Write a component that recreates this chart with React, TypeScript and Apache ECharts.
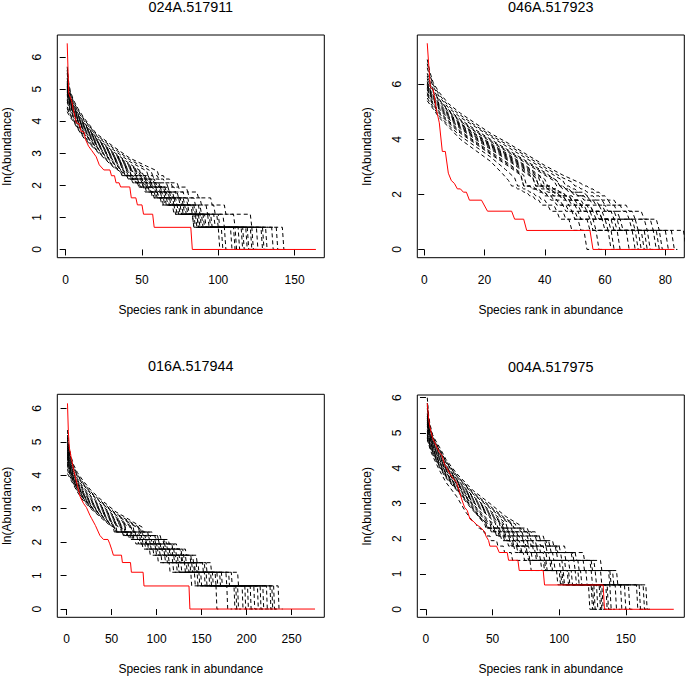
import React, { useEffect, useRef } from "react";
import * as echarts from "echarts";

const FONT = '"Liberation Sans", Arial, Helvetica, sans-serif';

// ln(abundance) levels of the tail (ln10 ... ln2, 0)
const LEVELS = [2.303, 2.197, 2.079, 1.946, 1.792, 1.609, 1.386, 1.099, 0.693, 0];

const titles = ["024A.517911", "046A.517923", "016A.517944", "004A.517975"];
const xName = "Species rank in abundance";
const yName = "ln(Abundance)";

// ---------- Panel 1 ----------
const p1XTicks = [0, 50, 100, 150];
const p1YTicks = [0, 1, 2, 3, 4, 5, 6];
const p1Observed = [
  [1, 6.43], [2, 4.87], [4, 4.62], [5, 4.36], [7, 3.95], [9, 3.91], [10, 3.69], [12, 3.66],
  [13, 3.43], [15, 3.22], [17, 3.09], [20, 2.89], [22, 2.64], [25, 2.48], [29, 2.48], [30, 2.3],
  [32, 2.3], [33, 2.08], [35, 2.08], [36, 1.95], [42, 1.95], [43, 1.61], [46, 1.61], [47, 1.39],
  [50, 1.39], [51, 1.1], [57, 1.1], [58, 0.69], [82, 0.69], [83, 0], [164, 0],
];
const p1SimHeads = [
  [[1, 5.7], [2, 5.2], [3, 4.95], [5, 4.67], [8, 4.4], [12, 4.1], [20, 3.62], [31, 3.22], [42, 2.85], [53, 2.6], [60, 2.45]],
  [[1, 5.5], [2, 5.05], [3, 4.85], [5, 4.58], [8, 4.3], [12, 4.02], [20, 3.55], [31, 3.12], [42, 2.74], [53, 2.45]],
  [[1, 5.35], [2, 4.95], [3, 4.78], [5, 4.52], [8, 4.24], [12, 3.96], [20, 3.5], [31, 3.06], [42, 2.67], [50, 2.42]],
  [[1, 5.2], [2, 4.88], [3, 4.7], [5, 4.46], [8, 4.18], [12, 3.9], [20, 3.45], [31, 3.0], [42, 2.6], [48, 2.42]],
  [[1, 5.1], [2, 4.8], [3, 4.65], [5, 4.4], [8, 4.12], [12, 3.85], [20, 3.4], [31, 2.95], [42, 2.54], [46, 2.42]],
  [[1, 5.0], [2, 4.75], [3, 4.6], [5, 4.35], [8, 4.08], [12, 3.8], [20, 3.36], [31, 2.9], [42, 2.48], [45, 2.4]],
  [[1, 4.9], [2, 4.68], [3, 4.52], [5, 4.3], [8, 4.03], [12, 3.75], [20, 3.31], [31, 2.84], [42, 2.42]],
  [[1, 4.8], [2, 4.6], [3, 4.45], [5, 4.24], [8, 3.98], [12, 3.7], [20, 3.26], [31, 2.79], [40, 2.42]],
  [[1, 4.7], [2, 4.52], [3, 4.38], [5, 4.18], [8, 3.93], [12, 3.65], [20, 3.22], [31, 2.74], [39, 2.42]],
  [[1, 4.6], [2, 4.45], [3, 4.3], [5, 4.12], [8, 3.88], [12, 3.6], [20, 3.18], [31, 2.69], [38, 2.42]],
  [[1, 4.45], [2, 4.32], [3, 4.22], [5, 4.06], [8, 3.82], [12, 3.54], [20, 3.13], [31, 2.63], [37, 2.42]],
  [[1, 4.3], [2, 4.2], [3, 4.12], [5, 4.0], [8, 3.75], [12, 3.47], [20, 3.08], [31, 2.58], [36, 2.42]],
  [[1, 5.6], [2, 5.1], [3, 4.9], [5, 4.62], [8, 4.35], [12, 4.06], [20, 3.58], [31, 3.17], [42, 2.8], [53, 2.52], [56, 2.44]],
  [[1, 5.25], [2, 4.9], [3, 4.74], [5, 4.49], [8, 4.21], [12, 3.93], [20, 3.47], [31, 3.03], [42, 2.63], [49, 2.42]],
  [[1, 5.05], [2, 4.78], [3, 4.62], [5, 4.37], [8, 4.1], [12, 3.82], [20, 3.38], [31, 2.92], [42, 2.51], [45, 2.42]],
  [[1, 4.85], [2, 4.64], [3, 4.48], [5, 4.27], [8, 4.0], [12, 3.72], [20, 3.28], [31, 2.81], [41, 2.42]],
  [[1, 4.65], [2, 4.48], [3, 4.34], [5, 4.15], [8, 3.9], [12, 3.62], [20, 3.2], [31, 2.71], [38, 2.42]],
  [[1, 4.4], [2, 4.28], [3, 4.18], [5, 4.03], [8, 3.78], [12, 3.5], [20, 3.1], [31, 2.6], [36, 2.42]],
  [[1, 5.15], [2, 4.84], [3, 4.68], [5, 4.43], [8, 4.15], [12, 3.87], [20, 3.42], [31, 2.97], [42, 2.57], [47, 2.42]],
  [[1, 4.95], [2, 4.72], [3, 4.56], [5, 4.33], [8, 4.05], [12, 3.78], [20, 3.33], [31, 2.87], [42, 2.45]],
];
const p1SimEnds = [
  [64, 68, 73, 79, 86, 95, 104, 121, 142, 144],
  [57, 61, 66, 71, 77, 84, 92, 103, 135, 139],
  [54, 58, 62, 67, 73, 80, 88, 100, 131, 136],
  [52, 56, 60, 65, 70, 77, 85, 97, 128, 133],
  [50, 54, 58, 63, 68, 75, 83, 94, 122, 130],
  [48, 52, 56, 61, 66, 72, 80, 91, 119, 127],
  [46, 50, 54, 59, 64, 70, 78, 89, 116, 124],
  [44, 48, 52, 57, 62, 68, 76, 87, 113, 121],
  [43, 47, 51, 55, 60, 67, 75, 86, 110, 118],
  [42, 46, 50, 54, 59, 65, 73, 85, 108, 113],
  [41, 45, 48, 53, 58, 64, 72, 84, 104, 108],
  [40, 43, 47, 51, 56, 62, 70, 83, 100, 102],
  [60, 64, 69, 74, 80, 88, 97, 110, 138, 141],
  [53, 57, 61, 66, 72, 79, 87, 99, 129, 135],
  [49, 53, 57, 62, 67, 74, 82, 93, 121, 128],
  [45, 49, 53, 58, 63, 69, 77, 88, 115, 123],
  [42, 46, 50, 55, 60, 66, 74, 86, 111, 116],
  [40, 44, 47, 52, 57, 63, 71, 83, 102, 106],
  [51, 55, 59, 64, 69, 76, 84, 95, 125, 131],
  [47, 51, 55, 60, 65, 71, 79, 90, 118, 126],
];

// ---------- Panel 2 ----------
const p2XTicks = [0, 20, 40, 60, 80];
const p2YTicks = [0, 2, 4, 6];
const p2Observed = [
  [1, 7.49], [2, 5.9], [3, 5.8], [4, 5.1], [5, 4.6], [6, 3.56], [7, 3.56], [8, 2.77], [9, 2.5],
  [10, 2.4], [11, 2.2], [12, 2.2], [13, 2.08], [14, 2.08], [15, 1.79], [19, 1.79], [21, 1.39],
  [29, 1.39], [30, 1.1], [33, 1.1], [34, 0.69], [55, 0.69], [56, 0], [83, 0],
];
const p2SimHeads = [
  [[1, 6.9], [2, 6.4], [3, 6.05], [5, 5.7], [8, 5.3], [12, 4.95], [17, 4.58], [22, 4.22], [28, 3.85], [34, 3.45], [40, 3.05], [46, 2.7], [52, 2.4]],
  [[1, 6.6], [2, 6.2], [3, 5.9], [5, 5.55], [8, 5.15], [12, 4.8], [17, 4.45], [22, 4.1], [28, 3.7], [34, 3.3], [40, 2.9], [46, 2.5]],
  [[1, 6.4], [2, 6.05], [3, 5.8], [5, 5.45], [8, 5.08], [12, 4.72], [17, 4.35], [22, 4.0], [28, 3.6], [34, 3.2], [40, 2.8], [44, 2.5]],
  [[1, 6.2], [2, 5.9], [3, 5.7], [5, 5.38], [8, 5.0], [12, 4.65], [17, 4.27], [22, 3.92], [28, 3.52], [34, 3.12], [40, 2.7], [43, 2.5]],
  [[1, 6.1], [2, 5.8], [3, 5.6], [5, 5.3], [8, 4.95], [12, 4.58], [17, 4.2], [22, 3.85], [28, 3.45], [34, 3.02], [40, 2.55]],
  [[1, 6.0], [2, 5.72], [3, 5.55], [5, 5.22], [8, 4.88], [12, 4.52], [17, 4.15], [22, 3.78], [28, 3.38], [34, 2.94], [38, 2.6]],
  [[1, 5.9], [2, 5.65], [3, 5.48], [5, 5.15], [8, 4.82], [12, 4.45], [17, 4.08], [22, 3.72], [28, 3.3], [34, 2.86], [37, 2.6]],
  [[1, 5.8], [2, 5.58], [3, 5.4], [5, 5.08], [8, 4.75], [12, 4.38], [17, 4.0], [22, 3.64], [28, 3.22], [34, 2.75], [36, 2.6]],
  [[1, 5.7], [2, 5.5], [3, 5.32], [5, 5.0], [8, 4.68], [12, 4.3], [17, 3.92], [22, 3.55], [28, 3.12], [33, 2.7]],
  [[1, 5.6], [2, 5.42], [3, 5.25], [5, 4.93], [8, 4.6], [12, 4.22], [17, 3.84], [22, 3.46], [28, 3.02], [32, 2.7]],
  [[1, 5.5], [2, 5.32], [3, 5.17], [5, 4.85], [8, 4.52], [12, 4.12], [17, 3.74], [22, 3.36], [27, 2.9], [30, 2.6]],
  [[1, 5.4], [2, 5.25], [3, 5.1], [5, 4.78], [8, 4.46], [12, 4.0], [17, 3.6], [22, 3.2], [26, 2.75], [28, 2.5]],
  [[1, 6.75], [2, 6.3], [3, 5.98], [5, 5.62], [8, 5.22], [12, 4.88], [17, 4.5], [22, 4.15], [28, 3.78], [34, 3.38], [40, 2.98], [46, 2.6], [49, 2.45]],
  [[1, 6.3], [2, 5.98], [3, 5.75], [5, 5.42], [8, 5.04], [12, 4.68], [17, 4.3], [22, 3.96], [28, 3.56], [34, 3.16], [40, 2.75], [44, 2.5]],
  [[1, 6.05], [2, 5.76], [3, 5.58], [5, 5.26], [8, 4.91], [12, 4.55], [17, 4.18], [22, 3.81], [28, 3.41], [34, 2.98], [39, 2.58]],
  [[1, 5.85], [2, 5.62], [3, 5.44], [5, 5.12], [8, 4.78], [12, 4.42], [17, 4.04], [22, 3.68], [28, 3.26], [34, 2.8], [36, 2.62]],
  [[1, 5.65], [2, 5.46], [3, 5.28], [5, 4.96], [8, 4.64], [12, 4.26], [17, 3.88], [22, 3.5], [28, 3.07], [32, 2.74]],
  [[1, 5.95], [2, 5.68], [3, 5.5], [5, 5.18], [8, 4.85], [12, 4.48], [17, 4.1], [22, 3.75], [28, 3.34], [34, 2.9], [37, 2.62]],
];
const p2SimEnds = [
  [54, 56, 58, 60, 63, 67, 72, 77, 86, 88],
  [48, 50, 53, 56, 59, 63, 67, 73, 80, 82],
  [46, 48, 51, 54, 57, 60, 64, 70, 78, 80],
  [45, 47, 49, 52, 55, 58, 62, 68, 76, 78],
  [42, 44, 46, 49, 52, 55, 59, 65, 74, 76],
  [41, 43, 45, 48, 51, 54, 58, 63, 72, 74],
  [40, 42, 44, 46, 49, 52, 56, 61, 70, 72],
  [38, 40, 42, 45, 47, 50, 54, 59, 67, 70],
  [36, 38, 40, 43, 45, 48, 51, 56, 64, 66],
  [35, 37, 39, 41, 43, 46, 49, 54, 61, 63],
  [32, 34, 36, 38, 40, 43, 46, 51, 57, 60],
  [30, 32, 34, 36, 38, 41, 44, 48, 53, 55],
  [51, 53, 56, 58, 61, 65, 69, 75, 82, 84],
  [46, 48, 50, 53, 56, 59, 63, 69, 77, 79],
  [42, 44, 46, 48, 51, 55, 58, 64, 73, 75],
  [39, 41, 43, 46, 48, 51, 55, 60, 69, 71],
  [35, 38, 40, 42, 44, 47, 50, 55, 62, 65],
  [40, 42, 44, 47, 50, 53, 57, 62, 71, 73],
];

// ---------- Panel 3 ----------
const p3XTicks = [0, 50, 100, 150, 200, 250];
const p3YTicks = [0, 1, 2, 3, 4, 5, 6];
const p3Observed = [
  [1, 6.15], [2, 5.3], [3, 4.84], [5, 4.55], [8, 4.14], [12, 3.7], [15, 3.36], [19, 3.15],
  [22, 3.04], [26, 2.8], [28, 2.7], [32, 2.5], [37, 2.2], [41, 2.08], [46, 2.08], [48, 1.95],
  [50, 1.79], [52, 1.61], [61, 1.61], [62, 1.39], [71, 1.39], [72, 1.1], [85, 1.1], [86, 0.69],
  [136, 0.69], [137, 0], [276, 0],
];
const p3SimHeads = [
  [[1, 5.35], [2, 5.0], [3, 4.8], [5, 4.55], [8, 4.3], [12, 4.08], [18, 3.85], [27, 3.55], [37, 3.3], [46, 3.1], [55, 2.9], [65, 2.75], [74, 2.6], [84, 2.45]],
  [[1, 5.2], [2, 4.9], [3, 4.72], [5, 4.48], [8, 4.24], [12, 4.02], [18, 3.79], [27, 3.5], [37, 3.25], [46, 3.05], [55, 2.85], [65, 2.7], [74, 2.55], [82, 2.42]],
  [[1, 5.05], [2, 4.8], [3, 4.63], [5, 4.4], [8, 4.17], [12, 3.96], [18, 3.73], [27, 3.44], [37, 3.2], [46, 3.0], [55, 2.8], [65, 2.64], [74, 2.5], [80, 2.42]],
  [[1, 4.95], [2, 4.7], [3, 4.55], [5, 4.32], [8, 4.1], [12, 3.9], [18, 3.66], [27, 3.38], [37, 3.14], [46, 2.94], [55, 2.74], [65, 2.58], [74, 2.45]],
  [[1, 4.82], [2, 4.6], [3, 4.45], [5, 4.24], [8, 4.03], [12, 3.82], [18, 3.58], [27, 3.3], [37, 3.07], [46, 2.87], [55, 2.67], [65, 2.52], [72, 2.42]],
  [[1, 4.7], [2, 4.5], [3, 4.35], [5, 4.15], [8, 3.95], [12, 3.75], [18, 3.5], [27, 3.22], [37, 3.0], [46, 2.8], [55, 2.6], [65, 2.45]],
  [[1, 4.6], [2, 4.42], [3, 4.28], [5, 4.1], [8, 3.9], [12, 3.7], [18, 3.45], [27, 3.17], [37, 2.95], [46, 2.74], [55, 2.55], [62, 2.42]],
  [[1, 4.5], [2, 4.34], [3, 4.22], [5, 4.05], [8, 3.86], [12, 3.66], [18, 3.41], [27, 3.12], [37, 2.9], [46, 2.68], [55, 2.5], [60, 2.42]],
  [[1, 4.4], [2, 4.26], [3, 4.15], [5, 4.0], [8, 3.82], [12, 3.62], [18, 3.37], [27, 3.08], [37, 2.86], [46, 2.64], [55, 2.45]],
  [[1, 4.3], [2, 4.18], [3, 4.08], [5, 3.95], [8, 3.78], [12, 3.58], [18, 3.33], [27, 3.05], [37, 2.82], [46, 2.6], [53, 2.44]],
  [[1, 4.18], [2, 4.08], [3, 4.0], [5, 3.9], [8, 3.74], [12, 3.54], [18, 3.3], [27, 3.02], [37, 2.79], [46, 2.57], [52, 2.44]],
  [[1, 4.05], [2, 4.0], [3, 3.95], [5, 3.85], [8, 3.7], [12, 3.5], [18, 3.26], [27, 3.0], [37, 2.76], [46, 2.55], [55, 2.4]],
  [[1, 5.12], [2, 4.85], [3, 4.68], [5, 4.44], [8, 4.2], [12, 3.99], [18, 3.76], [27, 3.47], [37, 3.22], [46, 3.02], [55, 2.82], [65, 2.67], [74, 2.52], [81, 2.42]],
  [[1, 4.88], [2, 4.65], [3, 4.5], [5, 4.28], [8, 4.06], [12, 3.86], [18, 3.62], [27, 3.34], [37, 3.1], [46, 2.9], [55, 2.7], [65, 2.55], [73, 2.43]],
  [[1, 4.76], [2, 4.55], [3, 4.4], [5, 4.2], [8, 3.99], [12, 3.78], [18, 3.54], [27, 3.26], [37, 3.03], [46, 2.84], [55, 2.64], [65, 2.48]],
  [[1, 4.55], [2, 4.38], [3, 4.25], [5, 4.07], [8, 3.88], [12, 3.68], [18, 3.43], [27, 3.14], [37, 2.92], [46, 2.71], [55, 2.52], [61, 2.42]],
  [[1, 4.35], [2, 4.22], [3, 4.12], [5, 3.98], [8, 3.8], [12, 3.6], [18, 3.35], [27, 3.06], [37, 2.84], [46, 2.62], [54, 2.44]],
  [[1, 4.65], [2, 4.46], [3, 4.32], [5, 4.12], [8, 3.92], [12, 3.72], [18, 3.47], [27, 3.2], [37, 2.97], [46, 2.77], [55, 2.57], [64, 2.43]],
];
const p3SimEnds = [
  [95, 104, 113, 122, 132, 144, 160, 190, 235, 240],
  [92, 101, 110, 119, 129, 140, 155, 183, 230, 236],
  [89, 98, 107, 116, 126, 137, 151, 177, 226, 232],
  [84, 93, 102, 111, 121, 132, 146, 172, 222, 228],
  [80, 89, 98, 107, 117, 128, 142, 167, 215, 222],
  [76, 85, 94, 104, 114, 125, 139, 162, 208, 214],
  [72, 81, 90, 100, 110, 121, 135, 158, 201, 208],
  [70, 78, 87, 96, 106, 117, 131, 153, 195, 200],
  [67, 75, 84, 93, 103, 113, 127, 149, 190, 194],
  [65, 73, 81, 90, 99, 109, 122, 145, 186, 190],
  [63, 71, 79, 87, 96, 105, 118, 142, 178, 184],
  [62, 69, 76, 84, 92, 101, 114, 138, 166, 170],
  [90, 99, 108, 117, 127, 138, 153, 180, 228, 234],
  [82, 91, 100, 109, 119, 130, 144, 170, 218, 225],
  [78, 87, 96, 105, 115, 127, 141, 165, 212, 218],
  [71, 80, 88, 98, 108, 119, 133, 155, 198, 204],
  [66, 74, 82, 91, 101, 111, 124, 147, 188, 192],
  [74, 83, 92, 102, 112, 123, 137, 160, 204, 211],
];

// ---------- Panel 4 ----------
const p4XTicks = [0, 50, 100, 150];
const p4YTicks = [0, 1, 2, 3, 4, 5, 6];
const p4Observed = [
  [1, 5.84], [2, 5.4], [3, 5.16], [5, 4.85], [7, 4.69], [10, 4.45], [12, 4.36], [14, 4.1],
  [16, 3.98], [18, 3.84], [21, 3.68], [23, 3.6], [25, 3.35], [27, 3.1], [29, 2.89], [31, 2.8],
  [33, 2.56], [36, 2.48], [38, 2.4], [41, 2.32], [44, 2.2], [45, 2.08], [47, 1.95], [48, 1.79],
  [53, 1.79], [55, 1.61], [61, 1.61], [62, 1.39], [69, 1.39], [70, 1.1], [88, 1.1], [89, 0.69],
  [133, 0.69], [134, 0], [186, 0],
];
const p4SimHeads = [
  [[1, 6.0], [2, 5.5], [3, 5.25], [5, 4.95], [7, 4.8], [10, 4.61], [15, 4.25], [23, 3.85], [35, 3.38], [48, 3.0], [60, 2.63], [70, 2.4]],
  [[1, 5.85], [2, 5.4], [3, 5.18], [5, 4.9], [7, 4.75], [10, 4.55], [15, 4.2], [23, 3.8], [35, 3.33], [48, 2.93], [60, 2.56], [67, 2.42]],
  [[1, 5.7], [2, 5.32], [3, 5.1], [5, 4.85], [7, 4.7], [10, 4.5], [15, 4.15], [23, 3.75], [35, 3.28], [48, 2.87], [60, 2.5], [64, 2.42]],
  [[1, 5.55], [2, 5.22], [3, 5.02], [5, 4.8], [7, 4.64], [10, 4.43], [15, 4.09], [23, 3.7], [35, 3.22], [48, 2.8], [60, 2.44]],
  [[1, 5.42], [2, 5.13], [3, 4.96], [5, 4.74], [7, 4.58], [10, 4.37], [15, 4.03], [23, 3.65], [35, 3.16], [48, 2.73], [57, 2.44]],
  [[1, 5.3], [2, 5.05], [3, 4.9], [5, 4.68], [7, 4.52], [10, 4.3], [15, 3.98], [23, 3.6], [35, 3.1], [48, 2.67], [55, 2.45]],
  [[1, 5.2], [2, 4.98], [3, 4.84], [5, 4.63], [7, 4.47], [10, 4.25], [15, 3.93], [23, 3.55], [35, 3.05], [48, 2.6], [52, 2.45]],
  [[1, 5.1], [2, 4.92], [3, 4.79], [5, 4.58], [7, 4.42], [10, 4.2], [15, 3.88], [23, 3.51], [35, 3.0], [46, 2.56], [50, 2.45]],
  [[1, 5.0], [2, 4.85], [3, 4.73], [5, 4.54], [7, 4.38], [10, 4.15], [15, 3.84], [23, 3.47], [35, 2.95], [44, 2.54], [48, 2.44]],
  [[1, 4.95], [2, 4.8], [3, 4.68], [5, 4.5], [7, 4.34], [10, 4.1], [15, 3.8], [23, 3.43], [35, 2.9], [42, 2.55], [46, 2.44]],
  [[1, 4.88], [2, 4.75], [3, 4.64], [5, 4.46], [7, 4.3], [10, 4.07], [15, 3.76], [23, 3.4], [35, 2.85], [41, 2.55], [44, 2.44]],
  [[1, 4.8], [2, 4.7], [3, 4.6], [5, 4.42], [7, 4.27], [10, 4.04], [15, 3.72], [23, 3.38], [35, 2.81], [45, 2.45]],
  [[1, 4.85], [3, 4.55], [5, 4.35], [10, 3.95], [15, 3.6], [23, 3.2], [30, 2.75], [35, 2.5], [38, 2.4]],
  [[1, 5.78], [2, 5.36], [3, 5.14], [5, 4.88], [7, 4.72], [10, 4.52], [15, 4.18], [23, 3.78], [35, 3.3], [48, 2.9], [60, 2.53], [65, 2.42]],
  [[1, 5.48], [2, 5.18], [3, 4.99], [5, 4.77], [7, 4.61], [10, 4.4], [15, 4.06], [23, 3.68], [35, 3.19], [48, 2.76], [58, 2.44]],
  [[1, 5.25], [2, 5.01], [3, 4.87], [5, 4.65], [7, 4.5], [10, 4.28], [15, 3.95], [23, 3.57], [35, 3.07], [48, 2.63], [53, 2.45]],
  [[1, 5.05], [2, 4.88], [3, 4.76], [5, 4.56], [7, 4.4], [10, 4.17], [15, 3.86], [23, 3.49], [35, 2.97], [45, 2.55], [49, 2.44]],
  [[1, 4.92], [2, 4.78], [3, 4.66], [5, 4.48], [7, 4.32], [10, 4.08], [15, 3.78], [23, 3.41], [35, 2.87], [41, 2.56], [45, 2.44]],
  [[1, 5.36], [2, 5.09], [3, 4.93], [5, 4.71], [7, 4.55], [10, 4.33], [15, 4.0], [23, 3.62], [35, 3.13], [48, 2.7], [56, 2.44]],
];
const p4SimEnds = [
  [76, 82, 88, 95, 104, 118, 131, 143, 165, 170],
  [73, 79, 85, 92, 100, 112, 126, 140, 163, 168],
  [70, 76, 82, 89, 97, 109, 123, 137, 158, 163],
  [66, 72, 78, 85, 93, 104, 118, 131, 152, 157],
  [63, 68, 74, 80, 88, 98, 111, 124, 146, 150],
  [60, 65, 70, 76, 83, 92, 104, 116, 138, 142],
  [57, 62, 67, 73, 80, 88, 100, 112, 135, 140],
  [55, 60, 65, 70, 77, 85, 96, 109, 132, 137],
  [53, 58, 62, 67, 74, 82, 93, 106, 130, 134],
  [51, 55, 60, 65, 71, 79, 90, 103, 128, 132],
  [49, 53, 58, 63, 68, 76, 88, 101, 125, 129],
  [48, 52, 56, 61, 66, 73, 86, 100, 122, 126],
  [41, 44, 48, 53, 58, 64, 78, 98, 124, 128],
  [71, 77, 83, 90, 98, 110, 124, 138, 160, 165],
  [64, 70, 76, 82, 90, 101, 114, 127, 149, 153],
  [58, 63, 68, 74, 81, 90, 102, 114, 136, 141],
  [54, 59, 63, 68, 75, 83, 94, 107, 131, 135],
  [50, 54, 59, 64, 70, 77, 89, 102, 126, 130],
  [61, 66, 72, 78, 85, 95, 107, 120, 142, 146],
];

// Build one simulated rank-abundance line from its head and the last rank at each tail level
function buildSim(head: number[][], ends: number[]): number[][] {
  const pts = head.map((p) => [p[0], p[1]]);
  let prev = head[head.length - 1][0];
  LEVELS.forEach((lv, i) => {
    const end = ends[i];
    if (end > prev) {
      pts.push([prev + 1, lv]);
      pts.push([end, lv]);
      prev = end;
    }
  });
  return pts;
}

const panels = [
  { grid: { left: 57.3, top: 35, width: 267, height: 222.7 }, x: [-5.5, 169.5], y: [-0.257, 6.69], xTicks: p1XTicks, yTicks: p1YTicks, obs: p1Observed, heads: p1SimHeads, ends: p1SimEnds },
  { grid: { left: 417.3, top: 35, width: 267, height: 222.7 }, x: [-2.3, 86.3], y: [-0.3, 7.79], xTicks: p2XTicks, yTicks: p2YTicks, obs: p2Observed, heads: p2SimHeads, ends: p2SimEnds },
  { grid: { left: 57.3, top: 394.3, width: 267, height: 223 }, x: [-10.3, 286.3], y: [-0.247, 6.42], xTicks: p3XTicks, yTicks: p3YTicks, obs: p3Observed, heads: p3SimHeads, ends: p3SimEnds },
  { grid: { left: 417.3, top: 395, width: 267, height: 222.3 }, x: [-6.5, 193.9], y: [-0.227, 6.076], xTicks: p4XTicks, yTicks: p4YTicks, obs: p4Observed, heads: p4SimHeads, ends: p4SimEnds },
];

export default function App() {
  const ref = useRef<HTMLDivElement>(null);
  useEffect(() => {
    if (!ref.current) return;
    const chart = echarts.init(ref.current, undefined, { renderer: "svg" });
    const grids: any[] = [];
    const xAxes: any[] = [];
    const yAxes: any[] = [];
    const series: any[] = [];
    const graphics: any[] = [];
    panels.forEach((p, i) => {
      grids.push({ ...p.grid, show: true, borderColor: "#000", borderWidth: 1, backgroundColor: "transparent" });
      xAxes.push({
        type: "value", gridIndex: i, min: p.x[0], max: p.x[1],
        name: xName, nameLocation: "middle", nameGap: 46,
        nameTextStyle: { fontFamily: FONT, fontSize: 12, color: "#000" },
        axisLine: { show: false }, splitLine: { show: false },
        axisTick: { show: true, length: 6, customValues: p.xTicks, lineStyle: { color: "#000", width: 1 } },
        axisLabel: { customValues: p.xTicks, margin: 16, fontFamily: FONT, fontSize: 12, color: "#000" },
      });
      yAxes.push({
        type: "value", gridIndex: i, min: p.y[0], max: p.y[1],
        name: yName, nameLocation: "middle", nameGap: 44, nameRotate: 90,
        nameTextStyle: { fontFamily: FONT, fontSize: 12, color: "#000" },
        axisLine: { show: false }, splitLine: { show: false },
        axisTick: { show: true, length: 6, customValues: p.yTicks, lineStyle: { color: "#000", width: 1 } },
        axisLabel: { customValues: p.yTicks, rotate: 90, margin: 14, fontFamily: FONT, fontSize: 12, color: "#000" },
      });
      p.heads.forEach((h, k) => {
        series.push({
          type: "line", xAxisIndex: i, yAxisIndex: i, data: buildSim(h, p.ends[k]),
          showSymbol: false, symbol: "none", silent: true, z: 2,
          lineStyle: { color: "#000", width: 1, type: [4, 3] },
        });
      });
      series.push({
        type: "line", xAxisIndex: i, yAxisIndex: i, data: p.obs,
        showSymbol: false, symbol: "none", silent: true, z: 3,
        lineStyle: { color: "#ff0000", width: 1, type: "solid" },
      });
      graphics.push({
        type: "text",
        x: p.grid.left + p.grid.width / 2,
        y: p.grid.top - 28.3,
        style: {
          text: titles[i], fill: "#000", font: `14.4px ${FONT}`,
          textAlign: "center", textVerticalAlign: "middle",
        },
      });
    });
    chart.setOption({
      animation: false,
      backgroundColor: "#fff",
      grid: grids,
      xAxis: xAxes,
      yAxis: yAxes,
      series,
      graphic: graphics,
    });
    return () => chart.dispose();
  }, []);
  return (
    <div
      ref={ref}
      style={{ position: "absolute", left: 0, top: 0, width: 685, height: 677 }}
    />
  );
}
